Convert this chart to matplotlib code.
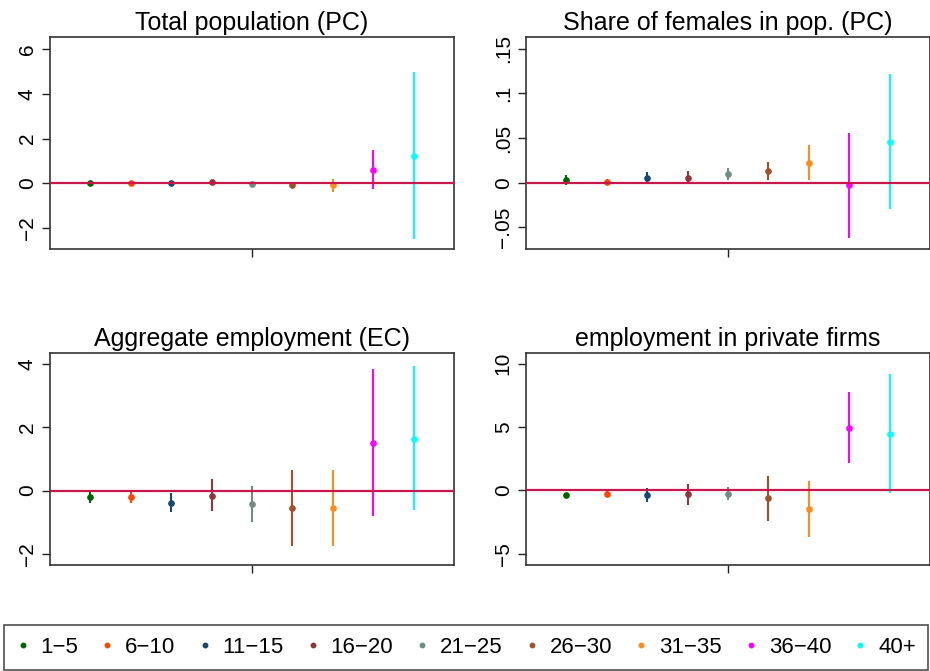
import numpy as np
import matplotlib
matplotlib.use('Agg')
import matplotlib.pyplot as plt
from matplotlib.lines import Line2D

plt.rcParams['font.family'] = ['Liberation Sans', 'DejaVu Sans']

groups = ['1\u22125', '6\u221210', '11\u221215', '16\u221220', '21\u221225',
          '26\u221230', '31\u221235', '36\u221240', '40+']
colors = ['#006400', '#ff4500', '#1a476f', '#90353b', '#6e8e84',
          '#a0522d', '#ff8c1a', '#ff00ff', '#00ffff']

# total population (PC)
pop_b = [0.0, 0.03, -0.01, 0.05, -0.03, -0.09, -0.08, 0.61, 1.24]
pop_lo = [-0.05, -0.02, -0.06, -0.05, -0.08, -0.2, -0.39, -0.25, -2.5]
pop_hi = [0.05, 0.08, 0.04, 0.15, 0.02, 0.05, 0.21, 1.48, 4.98]

# share of females (PC)
fem_b = [0.003, 0.001, 0.005, 0.0056, 0.010, 0.013, 0.022, -0.0026, 0.046]
fem_lo = [-0.003, -0.0026, -0.0015, -0.0015, 0.003, 0.003, 0.003, -0.0623, -0.0295]
fem_hi = [0.0086, 0.0045, 0.012, 0.013, 0.0168, 0.023, 0.042, 0.056, 0.1216]

# aggregate employment (EC)
emp_b = [-0.2, -0.19, -0.39, -0.16, -0.42, -0.55, -0.55, 1.51, 1.64]
emp_lo = [-0.39, -0.38, -0.69, -0.66, -1.0, -1.76, -1.74, -0.8, -0.63]
emp_hi = [0.0, 0.0, -0.08, 0.35, 0.15, 0.65, 0.66, 3.82, 3.92]

# employment in private firms
prv_b = [-0.37, -0.24, -0.37, -0.29, -0.24, -0.63, -1.47, 4.96, 4.47]
prv_lo = [-0.58, -0.53, -0.89, -1.16, -0.74, -2.44, -3.68, 2.13, -0.18]
prv_hi = [-0.18, -0.05, 0.16, 0.53, 0.24, 1.18, 0.74, 7.78, 9.17]

panels = [
    ('Total population (PC)', pop_b, pop_lo, pop_hi, (-2.95, 6.55),
     [-2, 0, 2, 4, 6], ['\u22122', '0', '2', '4', '6']),
    ('Share of females in pop. (PC)', fem_b, fem_lo, fem_hi, (-0.0742, 0.163),
     [-0.05, 0, 0.05, 0.1, 0.15], ['\u2212.05', '0', '.05', '.1', '.15']),
    ('Aggregate employment (EC)', emp_b, emp_lo, emp_hi, (-2.35, 4.34),
     [-2, 0, 2, 4], ['\u22122', '0', '2', '4']),
    ('employment in private firms', prv_b, prv_lo, prv_hi, (-5.88, 10.85),
     [-5, 0, 5, 10], ['\u22125', '0', '5', '10']),
]

fig = plt.figure(figsize=(9.3, 6.71), dpi=100)
pos = [(0.0538, 0.6289), (0.5656, 0.6289), (0.0538, 0.158), (0.5656, 0.158)]
w, h = 0.4344, 0.3159

for (title, b, lo, hi, ylim, yt, ytl), (x0, y0) in zip(panels, pos):
    ax = fig.add_axes([x0, y0, w, h])
    for i in range(len(groups)):
        ax.plot([i + 1, i + 1], [lo[i], hi[i]], color=colors[i], lw=1.5,
                solid_capstyle='butt', zorder=2)
        ax.plot(i + 1, b[i], 'o', color=colors[i], ms=3.8, zorder=3)
    ax.axhline(0, color='#c8174a', lw=1.6, zorder=4)
    ax.set_xlim(0, 10)
    ax.set_ylim(*ylim)
    ax.set_xticks([5])
    ax.set_xticklabels([''])
    ax.set_yticks(yt)
    ax.set_yticklabels(ytl, rotation=90, va='center', fontsize=15)
    ax.tick_params(direction='out', length=5.5, width=1, color='#222222', pad=4)
    for s in ax.spines.values():
        s.set_color('#333333')
        s.set_linewidth(1.2)
    ax.set_title(title, fontsize=18, pad=5)

handles = [Line2D([], [], ls='none', marker='o', ms=3.2, color=c) for c in colors]
leg = fig.legend(handles, groups, loc='lower left', ncol=9, mode='expand',
                 bbox_to_anchor=(0.004, 0.0015, 0.994, 0.066), fontsize=16,
                 frameon=True, fancybox=False, handlelength=0.6,
                 handletextpad=0.5, columnspacing=0.8, borderaxespad=0,
                 borderpad=0.55)
leg.get_frame().set_edgecolor('#222222')
leg.get_frame().set_linewidth(1.2)

fig.savefig('out.png', dpi=100)
